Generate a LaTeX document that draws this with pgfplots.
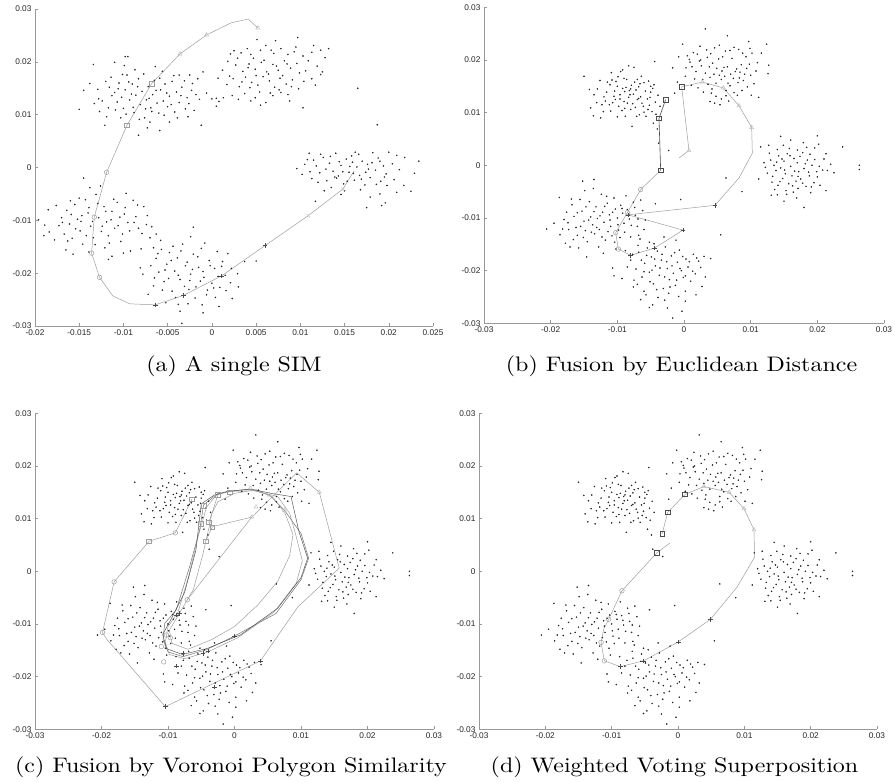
\documentclass[border=0pt]{standalone}
\usepackage{fontspec}
\usepackage{graphicx}
\usepackage{pgfplots}
\usepackage{pgfplotstable}
\pgfplotsset{compat=1.18}
\newfontfamily\arial{Liberation Sans}
\definecolor{lg}{gray}{0.62}
\definecolor{llg}{gray}{0.75}
\definecolor{dg}{gray}{0.3}
\definecolor{axg}{gray}{0.6}
\newcommand{\capt}[1]{\scalebox{2.4}[2.1]{\fontsize{10}{12}\selectfont #1}}

% scatter of panel (a)
\pgfplotstableread[row sep=\\]{
x y\\
-14.5e-3 14.6e-3\\ -15e-3 11e-3\\ -13.4e-3 19.5e-3\\ -11e-3 19.9e-3\\ -9.8e-3 21e-3\\ -9.5e-3 21e-3\\ -12.7e-3 10.6e-3\\ -12.1e-3 8e-3\\ -8.3e-3 6.1e-3\\ -5.9e-3 7e-3\\
-4.8e-3 8.6e-3\\ -2.7e-3 9.6e-3\\ -1.2e-3 8e-3\\ -1e-3 18.1e-3\\ 0e-3 13e-3\\ 1.3e-3 13.2e-3\\ -2.5e-3 17.5e-3\\ -1.4e-3 12.9e-3\\ -6.4e-3 19.1e-3\\ -3.7e-3 17.5e-3\\
-12e-3 16.3e-3\\ -11.6e-3 15.2e-3\\ -11.3e-3 13.6e-3\\ -11e-3 14.2e-3\\ -10.7e-3 12.4e-3\\ -10.5e-3 16e-3\\ -10.2e-3 13.3e-3\\ -10e-3 11.2e-3\\ -9.8e-3 14.7e-3\\ -9.6e-3 17.5e-3\\
-9.3e-3 12.8e-3\\ -9e-3 15.8e-3\\ -8.8e-3 10.4e-3\\ -8.6e-3 13.7e-3\\ -8.3e-3 16.8e-3\\ -8.1e-3 11.9e-3\\ -7.9e-3 14.4e-3\\ -7.6e-3 9.4e-3\\ -7.4e-3 12.8e-3\\ -7.2e-3 15.3e-3\\
-6.9e-3 11.3e-3\\ -6.7e-3 13.8e-3\\ -6.5e-3 16.5e-3\\ -6.2e-3 12.2e-3\\ -6e-3 10.3e-3\\ -5.8e-3 14.7e-3\\ -5.5e-3 12.6e-3\\ -5.3e-3 15.8e-3\\ -5e-3 11.5e-3\\ -4.8e-3 13.5e-3\\
-4.5e-3 16.3e-3\\ -4.2e-3 10.5e-3\\ -4e-3 14.3e-3\\ -3.7e-3 12.3e-3\\ -3.4e-3 15.2e-3\\ -3e-3 11.1e-3\\ -2.8e-3 13.2e-3\\ -2.3e-3 14.6e-3\\ -2e-3 10.8e-3\\ -1.6e-3 16.8e-3\\
-10.3e-3 9.4e-3\\ -11.7e-3 11.3e-3\\ -12.8e-3 13e-3\\ -7e-3 8.6e-3\\ -5.6e-3 18.2e-3\\ -8.7e-3 18.5e-3\\
-13.8e-3 15.9e-3\\ -12.9e-3 14.8e-3\\ -12.4e-3 12.6e-3\\ -11.9e-3 9.6e-3\\ -11.4e-3 17.1e-3\\ -10.9e-3 10.9e-3\\ -10.6e-3 14.9e-3\\ -10.1e-3 17.6e-3\\ -9.7e-3 10.1e-3\\ -9.4e-3 16.2e-3\\
-9.1e-3 13.9e-3\\ -8.9e-3 11.4e-3\\ -8.4e-3 15.3e-3\\ -8.2e-3 9.1e-3\\ -7.7e-3 17.7e-3\\ -7.5e-3 11.1e-3\\ -7.1e-3 13.1e-3\\ -6.8e-3 10.6e-3\\ -6.3e-3 14.6e-3\\ -5.9e-3 16.9e-3\\
-5.4e-3 9.9e-3\\ -5.1e-3 14.1e-3\\ -4.6e-3 11.9e-3\\ -4.3e-3 17.4e-3\\ -3.9e-3 9.4e-3\\ -3.5e-3 13.6e-3\\ -3.1e-3 16.4e-3\\ -2.6e-3 12.1e-3\\ -2.2e-3 15.9e-3\\ -1.8e-3 13.8e-3\\
-0.6e-3 14.1e-3\\ 0.5e-3 11.6e-3\\ -13.3e-3 12.1e-3\\ -9.9e-3 19.3e-3\\ -7.3e-3 7.5e-3\\
16.5e-3 15e-3\\ 10.3e-3 11.3e-3\\ 0.7e-3 16.9e-3\\
2.5e-3 22.1e-3\\ 3.3e-3 21.7e-3\\ 4e-3 22.5e-3\\ 4.7e-3 20.7e-3\\ 5.5e-3 22.2e-3\\ 6.1e-3 23.1e-3\\ 7e-3 21.6e-3\\ 7.8e-3 22.5e-3\\ 8.6e-3 21.4e-3\\ 9.5e-3 22.8e-3\\
10.3e-3 21.1e-3\\ 11.3e-3 21.8e-3\\ 12.3e-3 22.2e-3\\ 1.8e-3 20.1e-3\\ 2.7e-3 19.4e-3\\ 3.5e-3 18.2e-3\\ 4.2e-3 19.6e-3\\ 4.9e-3 18.6e-3\\ 5.6e-3 19.9e-3\\ 6.2e-3 18.1e-3\\
6.9e-3 19.5e-3\\ 7.5e-3 18.4e-3\\ 8.2e-3 20.2e-3\\ 8.9e-3 18.8e-3\\ 9.6e-3 19.7e-3\\ 10.6e-3 18.3e-3\\ 11.9e-3 19.2e-3\\ 12.5e-3 18.1e-3\\ 1.7e-3 15.7e-3\\ 2.4e-3 16.8e-3\\
3.1e-3 15.3e-3\\ 3.8e-3 17.1e-3\\ 4.5e-3 16.1e-3\\ 5.2e-3 15.6e-3\\ 5.8e-3 17.2e-3\\ 6.5e-3 16.4e-3\\ 7.1e-3 15.2e-3\\ 7.7e-3 16.9e-3\\ 8.4e-3 15.8e-3\\ 9.1e-3 16.6e-3\\
9.8e-3 14.9e-3\\ 11.3e-3 16.8e-3\\ 12.3e-3 17.6e-3\\ 2.3e-3 13.6e-3\\ 3.7e-3 14e-3\\ 4.9e-3 13.2e-3\\ 6.1e-3 12.3e-3\\ 6.9e-3 13.6e-3\\ 7.8e-3 14.2e-3\\ 8.6e-3 13.8e-3\\
5.5e-3 11.8e-3\\ 4.4e-3 12.6e-3\\ 13.2e-3 22.5e-3\\ 7.2e-3 24e-3\\ 9.7e-3 24.6e-3\\ 11.5e-3 23.1e-3\\ 0.8e-3 12.5e-3\\ 0.5e-3 13.1e-3\\
1.2e-3 18.4e-3\\ 2e-3 17.3e-3\\ 2.9e-3 20.7e-3\\ 3.4e-3 16.2e-3\\ 4.1e-3 18.9e-3\\ 4.4e-3 21.4e-3\\ 5e-3 17.4e-3\\ 5.4e-3 14.3e-3\\ 5.9e-3 20.3e-3\\ 6.4e-3 17.7e-3\\
6.7e-3 22.2e-3\\ 7.3e-3 19.2e-3\\ 7.6e-3 14.7e-3\\ 8e-3 17.4e-3\\ 8.5e-3 19.6e-3\\ 9e-3 15.3e-3\\ 9.3e-3 21.9e-3\\ 9.9e-3 17.9e-3\\ 10.4e-3 16.3e-3\\ 10.9e-3 20.2e-3\\
11.7e-3 15.6e-3\\ 12.8e-3 20.8e-3\\ 3e-3 12.9e-3\\ 6.6e-3 14.1e-3\\ 8.8e-3 12.6e-3\\ 2.1e-3 21.5e-3\\ 5.1e-3 24.2e-3\\ 4.3e-3 15.1e-3\\
18.7e-3 8.1e-3\\ 20.9e-3 2.3e-3\\ 23.4e-3 1.2e-3\\ 22.9e-3 -1.1e-3\\ 22.5e-3 -4.5e-3\\ 20.9e-3 -4.7e-3\\ 19e-3 -5e-3\\ 11.7e-3 -6.4e-3\\ 17.5e-3 -7.6e-3\\ 19.2e-3 -7.2e-3\\ 19.6e-3 -6.7e-3\\
9.6e-3 -0.2e-3\\ 10.2e-3 -1.3e-3\\ 10.8e-3 1.5e-3\\ 11.3e-3 -2.1e-3\\ 11.8e-3 0.3e-3\\ 12.2e-3 -1e-3\\ 12.6e-3 1.9e-3\\ 13e-3 -2.5e-3\\ 13.3e-3 0.8e-3\\ 13.7e-3 -0.7e-3\\
14e-3 2.7e-3\\ 14.3e-3 -1.6e-3\\ 14.6e-3 0.4e-3\\ 14.9e-3 -3.1e-3\\ 15.2e-3 1.6e-3\\ 15.5e-3 -0.9e-3\\ 15.8e-3 2.2e-3\\ 16.1e-3 -2.4e-3\\ 16.4e-3 0.1e-3\\ 16.7e-3 -1.5e-3\\
17e-3 1.2e-3\\ 17.3e-3 -3.3e-3\\ 17.6e-3 0.6e-3\\ 17.9e-3 -1.9e-3\\ 18.2e-3 2.8e-3\\ 18.5e-3 -0.5e-3\\ 18.8e-3 1.8e-3\\ 19.1e-3 -2.6e-3\\ 19.4e-3 0.3e-3\\ 19.7e-3 -1.2e-3\\
20e-3 2.9e-3\\ 13.5e-3 -3.8e-3\\ 15e-3 -4.4e-3\\ 16.8e-3 -4.2e-3\\ 12.3e-3 2.5e-3\\ 16.2e-3 2.9e-3\\ 14.1e-3 -2e-3\\ 15.9e-3 1e-3\\ 17.7e-3 -0.3e-3\\ 19.8e-3 -3.4e-3\\ 11e-3 2.7e-3\\
10.5e-3 0.6e-3\\ 11.1e-3 -0.8e-3\\ 11.5e-3 1.4e-3\\ 12e-3 -2.8e-3\\ 12.9e-3 -0.3e-3\\ 13.4e-3 2.1e-3\\ 13.9e-3 -1.8e-3\\ 14.4e-3 1.1e-3\\ 14.8e-3 -0.8e-3\\ 15.3e-3 -2.6e-3\\
15.6e-3 0.2e-3\\ 16e-3 -1.1e-3\\ 16.6e-3 2.5e-3\\ 16.9e-3 -2.2e-3\\ 17.4e-3 -0.9e-3\\ 18.1e-3 0.9e-3\\ 18.6e-3 -3.2e-3\\ 19e-3 1.2e-3\\ 19.5e-3 -1.8e-3\\ 20.4e-3 0.7e-3\\
21.2e-3 -0.4e-3\\ 21.8e-3 1.9e-3\\ 20.6e-3 -2.3e-3\\ 14.6e-3 -5.1e-3\\ 17.9e-3 -5.6e-3\\ 12.7e-3 -4.4e-3\\ 21.7e-3 -3.4e-3\\
-19.6e-3 -9.9e-3\\ -18.5e-3 -8e-3\\ -14.5e-3 -2e-3\\ -15.7e-3 -16.4e-3\\ -11.7e-3 -17.4e-3\\ -8.1e-3 -19e-3\\ -6.3e-3 -12.6e-3\\ -19e-3 -12.9e-3\\ -18.4e-3 -12.2e-3\\ -16.5e-3 -15.6e-3\\
-17.3e-3 -11e-3\\ -17e-3 -9.5e-3\\ -16.7e-3 -12.6e-3\\ -16.4e-3 -8.1e-3\\ -16.1e-3 -10.7e-3\\ -15.8e-3 -13.4e-3\\ -15.5e-3 -7e-3\\ -15.2e-3 -9.8e-3\\ -14.9e-3 -12e-3\\ -14.6e-3 -14.5e-3\\
-14.3e-3 -6.1e-3\\ -14e-3 -8.6e-3\\ -13.7e-3 -11.1e-3\\ -13.4e-3 -13.3e-3\\ -13.1e-3 -5.1e-3\\ -12.8e-3 -9.5e-3\\ -12.5e-3 -12.1e-3\\ -12.2e-3 -7.4e-3\\ -11.9e-3 -10.3e-3\\ -11.6e-3 -14.3e-3\\
-11.3e-3 -8.3e-3\\ -11e-3 -11.5e-3\\ -10.7e-3 -6.6e-3\\ -10.4e-3 -9.4e-3\\ -10.1e-3 -12.6e-3\\ -9.8e-3 -7.6e-3\\ -9.5e-3 -10.4e-3\\ -9.2e-3 -15.8e-3\\ -8.9e-3 -6.2e-3\\ -8.6e-3 -9.3e-3\\
-8.3e-3 -11.5e-3\\ -8e-3 -15.4e-3\\ -7.7e-3 -7.4e-3\\ -7.4e-3 -10.8e-3\\ -7e-3 -13.3e-3\\ -12.6e-3 -3.5e-3\\ -10e-3 -16.2e-3\\ -13.9e-3 -16e-3\\ -9.7e-3 -4.9e-3\\ -12.1e-3 -15.2e-3\\ -16e-3 -6.3e-3\\ -14.8e-3 -10.2e-3\\
-18.9e-3 -10.9e-3\\ -17.8e-3 -13.7e-3\\ -17.6e-3 -7.2e-3\\ -16.9e-3 -10.4e-3\\ -16.3e-3 -13.9e-3\\ -15.9e-3 -8.9e-3\\ -15.4e-3 -11.6e-3\\ -15e-3 -5.8e-3\\ -14.7e-3 -9.1e-3\\ -14.2e-3 -12.9e-3\\
-13.9e-3 -7.6e-3\\ -13.5e-3 -10.2e-3\\ -13.2e-3 -14.6e-3\\ -12.9e-3 -6.8e-3\\ -12.4e-3 -11.1e-3\\ -12e-3 -8.3e-3\\ -11.7e-3 -12.9e-3\\ -11.4e-3 -9.9e-3\\ -11.1e-3 -6e-3\\ -10.6e-3 -11e-3\\
-10.3e-3 -14e-3\\ -9.9e-3 -8.8e-3\\ -9.3e-3 -12e-3\\ -8.8e-3 -10.4e-3\\ -8.4e-3 -7.1e-3\\ -7.9e-3 -12.5e-3\\ -7.3e-3 -9.1e-3\\ -6.8e-3 -11.2e-3\\ -6.6e-3 -15.2e-3\\ -11.3e-3 -16.8e-3\\ -13.8e-3 -3.8e-3\\
-1e-3 -27.5e-3\\ -2.1e-3 -11.3e-3\\ 2.9e-3 -20.1e-3\\ 5e-3 -17.7e-3\\ 3.7e-3 -17.8e-3\\ 2.3e-3 -24.8e-3\\ -7.2e-3 -24e-3\\ -3.4e-3 -29.5e-3\\
-6.3e-3 -17.2e-3\\ -6e-3 -19.8e-3\\ -5.7e-3 -15.5e-3\\ -5.4e-3 -21.6e-3\\ -5.1e-3 -18.3e-3\\ -4.8e-3 -16.1e-3\\ -4.5e-3 -23.4e-3\\ -4.2e-3 -19.6e-3\\ -3.9e-3 -17.1e-3\\ -3.6e-3 -21.2e-3\\
-3.3e-3 -14.5e-3\\ -3e-3 -18.6e-3\\ -2.7e-3 -25.8e-3\\ -2.4e-3 -20.2e-3\\ -2.1e-3 -16.4e-3\\ -1.8e-3 -22.6e-3\\ -1.5e-3 -18.9e-3\\ -1.2e-3 -15.3e-3\\ -0.9e-3 -20.8e-3\\ -0.6e-3 -24.1e-3\\
-0.3e-3 -17.6e-3\\ 0e-3 -21.9e-3\\ 0.3e-3 -19.1e-3\\ 0.6e-3 -15.9e-3\\ 0.9e-3 -22.7e-3\\ 1.2e-3 -17.8e-3\\ 1.5e-3 -20.4e-3\\ 1.8e-3 -16.3e-3\\ -5.2e-3 -25.6e-3\\ -3.8e-3 -25.9e-3\\
-1.1e-3 -26e-3\\ -6.6e-3 -22.4e-3\\ -4.4e-3 -14.9e-3\\ -2.6e-3 -23.1e-3\\ 0.4e-3 -24.6e-3\\ -0.8e-3 -14.3e-3\\ 2.1e-3 -21.8e-3\\ -5.8e-3 -13.8e-3\\
-6.9e-3 -18.6e-3\\ -6.5e-3 -20.9e-3\\ -6.1e-3 -16.3e-3\\ -5.6e-3 -23.2e-3\\ -5.3e-3 -19.4e-3\\ -4.9e-3 -21e-3\\ -4.6e-3 -17.6e-3\\ -4.1e-3 -24.6e-3\\ -3.8e-3 -20.4e-3\\ -3.5e-3 -15.8e-3\\
-3.1e-3 -22.5e-3\\ -2.8e-3 -17.9e-3\\ -2.5e-3 -21.4e-3\\ -2.2e-3 -19.3e-3\\ -1.9e-3 -24.7e-3\\ -1.6e-3 -16.9e-3\\ -1.3e-3 -21.5e-3\\ -1e-3 -19.7e-3\\ -0.5e-3 -23.2e-3\\ -0.2e-3 -18.6e-3\\
0.2e-3 -22.8e-3\\ 0.7e-3 -20.6e-3\\ 1.1e-3 -18.7e-3\\ 1.6e-3 -23.3e-3\\ 2.2e-3 -19.1e-3\\ -7.8e-3 -20.2e-3\\ -3.6e-3 -27.2e-3\\ 0.8e-3 -26.3e-3\\ 3e-3 -22.6e-3\\ -2.4e-3 -13.1e-3\\
}\ptsA

% scatter shared by panels (b), (c), (d)
\pgfplotstableread[row sep=\\]{
x y\\
-15e-3 16.9e-3\\ -13.5e-3 13.4e-3\\ -14e-3 10.9e-3\\ -12.5e-3 9e-3\\ -11.5e-3 15.8e-3\\ -10.8e-3 16.2e-3\\ -10.2e-3 15.9e-3\\ -10e-3 15e-3\\ -9.5e-3 17.8e-3\\ -9.2e-3 18.1e-3\\
-9e-3 16.5e-3\\ -8.7e-3 14.8e-3\\ -8.2e-3 14.2e-3\\ -8e-3 14.5e-3\\ -7.2e-3 14.3e-3\\ -7.5e-3 18.6e-3\\ -7e-3 16.3e-3\\ -6.6e-3 15.5e-3\\ -6e-3 15.7e-3\\ -5.3e-3 16e-3\\
-5e-3 15e-3\\ -4.5e-3 15.3e-3\\ -4.4e-3 19.7e-3\\ -12e-3 13e-3\\ -11.8e-3 12.2e-3\\ -11.2e-3 11.5e-3\\ -11e-3 10.3e-3\\ -10.5e-3 13.1e-3\\ -10.3e-3 12.5e-3\\ -10e-3 9.2e-3\\
-9.8e-3 11.2e-3\\ -9.6e-3 13.4e-3\\ -9.3e-3 10.4e-3\\ -9e-3 12.1e-3\\ -8.8e-3 9.3e-3\\ -8.5e-3 11.8e-3\\ -8.3e-3 12.9e-3\\ -8e-3 10.6e-3\\ -7.8e-3 7.4e-3\\ -7.6e-3 13.5e-3\\
-7.3e-3 11e-3\\ -7e-3 12.5e-3\\ -6.7e-3 9.6e-3\\ -6.5e-3 13e-3\\ -6.3e-3 11.8e-3\\ -6e-3 10.1e-3\\ -5.7e-3 9.3e-3\\ -5.5e-3 12.6e-3\\ -5.2e-3 11.4e-3\\ -5e-3 13.9e-3\\
-4.8e-3 10.2e-3\\ -4.6e-3 8e-3\\ -4.3e-3 12e-3\\ -4e-3 6.9e-3\\ -3.8e-3 4.2e-3\\ -13e-3 14.5e-3\\ -12.3e-3 11.5e-3\\ -8.9e-3 14e-3\\ -7.9e-3 15.2e-3\\ -6.8e-3 14.9e-3\\
-14.2e-3 14.4e-3\\ -13.1e-3 11.9e-3\\ -12.6e-3 16.1e-3\\ -12.1e-3 10.2e-3\\ -11.6e-3 13.9e-3\\ -11.1e-3 15.3e-3\\ -10.7e-3 11.9e-3\\ -10.4e-3 14.1e-3\\ -9.9e-3 16.8e-3\\ -9.6e-3 12.6e-3\\
-9.2e-3 14.6e-3\\ -8.9e-3 10.8e-3\\ -8.6e-3 16.3e-3\\ -8.1e-3 13.4e-3\\ -7.7e-3 11.7e-3\\ -7.4e-3 15.8e-3\\ -7.1e-3 9.3e-3\\ -6.8e-3 12.7e-3\\ -6.4e-3 16.9e-3\\ -6.1e-3 11.2e-3\\
-5.8e-3 14.1e-3\\ -5.4e-3 10.6e-3\\ -5.1e-3 12.9e-3\\ -4.7e-3 14.6e-3\\ -4.2e-3 9.7e-3\\ -3.9e-3 13.3e-3\\ -3.6e-3 11.2e-3\\ -10.9e-3 17.6e-3\\ -8.3e-3 18.9e-3\\ -13.6e-3 9.4e-3\\
3.2e-3 25.9e-3\\ 6.5e-3 24.6e-3\\ 9.7e-3 23.5e-3\\ 12.4e-3 23e-3\\ -0.2e-3 23e-3\\ 12.7e-3 19e-3\\ 12.6e-3 17.4e-3\\ 11.2e-3 12.9e-3\\ -1.7e-3 18.5e-3\\ -1e-3 15.8e-3\\ -1.4e-3 13.7e-3\\
0.5e-3 20.8e-3\\ 0.8e-3 20.1e-3\\ 1.4e-3 21.4e-3\\ 2e-3 21.1e-3\\ 2.5e-3 20e-3\\ 3.5e-3 20.5e-3\\ 4e-3 21.2e-3\\ 4.6e-3 22.3e-3\\ 5.3e-3 22.8e-3\\ 5.8e-3 20.6e-3\\
6.2e-3 21.7e-3\\ 6.9e-3 21.8e-3\\ 7.5e-3 22.4e-3\\ 8.2e-3 22e-3\\ 8.8e-3 21.3e-3\\ 9.3e-3 20.6e-3\\ 10.2e-3 21.3e-3\\ 11e-3 19.5e-3\\ 0.3e-3 18.5e-3\\ 1.2e-3 18.7e-3\\
1.8e-3 17.8e-3\\ 2.6e-3 18.9e-3\\ 3.2e-3 17.5e-3\\ 3.8e-3 18.7e-3\\ 4.5e-3 17.3e-3\\ 4.9e-3 18.4e-3\\ 5.3e-3 17.1e-3\\ 5.7e-3 17.9e-3\\ 6.1e-3 16.9e-3\\ 6.5e-3 18.7e-3\\
7e-3 17.3e-3\\ 7.4e-3 16.5e-3\\ 7.9e-3 18.3e-3\\ 8.4e-3 17.7e-3\\ 8.9e-3 16.1e-3\\ 9.4e-3 18.4e-3\\ 10e-3 17.1e-3\\ 1.1e-3 15.2e-3\\ 2.1e-3 14.7e-3\\ 2.9e-3 13.9e-3\\
3.6e-3 15.4e-3\\ 4.2e-3 14.5e-3\\ 4.8e-3 13.1e-3\\ 5.6e-3 12.6e-3\\ 6.3e-3 14.2e-3\\ 6.9e-3 15.1e-3\\ 7.5e-3 13.8e-3\\ 8.1e-3 15.7e-3\\ 8.7e-3 14.2e-3\\ 9.5e-3 14.9e-3\\
10.1e-3 13.3e-3\\ 4.6e-3 11.8e-3\\ 5.4e-3 11.5e-3\\ 3.9e-3 12.1e-3\\ 6.7e-3 12.2e-3\\
0.9e-3 19.6e-3\\ 1.6e-3 16.4e-3\\ 2.3e-3 19.8e-3\\ 2.8e-3 16.3e-3\\ 3.4e-3 21.9e-3\\ 3.9e-3 16.7e-3\\ 4.3e-3 19.4e-3\\ 4.8e-3 15.6e-3\\ 5.2e-3 20.2e-3\\ 5.6e-3 16.3e-3\\
6e-3 18.6e-3\\ 6.6e-3 15.6e-3\\ 7.2e-3 20.3e-3\\ 7.7e-3 17.8e-3\\ 8.3e-3 16.6e-3\\ 8.6e-3 19.1e-3\\ 9.1e-3 17.3e-3\\ 9.8e-3 19.2e-3\\ 10.5e-3 15.5e-3\\ 10.8e-3 17.9e-3\\
11.6e-3 21.3e-3\\ 0.2e-3 16.9e-3\\ 2.4e-3 22.6e-3\\ 6.3e-3 13.2e-3\\ 8e-3 13.3e-3\\ 4.1e-3 13.7e-3\\ 9.9e-3 22.2e-3\\ -0.8e-3 20.6e-3\\
11.5e-3 3.5e-3\\ 12.7e-3 3.8e-3\\ 14.5e-3 5.5e-3\\ 16e-3 4.8e-3\\ 17.9e-3 4.3e-3\\ 20e-3 5.6e-3\\ 20.2e-3 4e-3\\ 21e-3 1.2e-3\\ 22e-3 0.2e-3\\ 22.5e-3 -1.4e-3\\
21.3e-3 -4.8e-3\\ 18e-3 -8e-3\\ 15e-3 -6.8e-3\\ 14e-3 -5.6e-3\\ 11.2e-3 -2.6e-3\\ 13e-3 1e-3\\ 13.5e-3 0e-3\\ 13.8e-3 -1e-3\\ 14.2e-3 1.8e-3\\ 14.5e-3 -0.5e-3\\
14.8e-3 -2.5e-3\\ 15e-3 0.8e-3\\ 15.2e-3 -1.6e-3\\ 15.5e-3 2.2e-3\\ 15.7e-3 -3.5e-3\\ 16e-3 -0.2e-3\\ 16.2e-3 -2e-3\\ 16.5e-3 1.3e-3\\ 16.8e-3 -3e-3\\ 17e-3 0.5e-3\\
17.2e-3 -1.2e-3\\ 17.5e-3 -2.6e-3\\ 17.8e-3 2.4e-3\\ 18e-3 -0.6e-3\\ 18.3e-3 -4e-3\\ 18.5e-3 1e-3\\ 18.8e-3 -2e-3\\ 19.2e-3 0e-3\\ 19.5e-3 -3.3e-3\\ 19.9e-3 -1.2e-3\\
20.3e-3 -0.2e-3\\ 13.2e-3 -3.2e-3\\ 13.6e-3 -4.6e-3\\ 14.1e-3 -3.8e-3\\ 15.3e-3 -4.8e-3\\ 16.4e-3 -5.1e-3\\ 17.1e-3 -4.4e-3\\ 19e-3 -5.2e-3\\ 20.4e-3 -3.8e-3\\ 21.5e-3 -1e-3\\
12.5e-3 -1.5e-3\\ 12e-3 0.5e-3\\ 14e-3 3e-3\\ 15.8e-3 3.2e-3\\ 17e-3 2.9e-3\\ 18.9e-3 2.1e-3\\ 19.6e-3 3.3e-3\\ 26.3e-3 0e-3\\ 26.3e-3 -0.8e-3\\ 23.8e-3 3.5e-3\\
12.2e-3 -0.4e-3\\ 12.8e-3 2.3e-3\\ 13.3e-3 -2.1e-3\\ 13.9e-3 0.6e-3\\ 14.4e-3 -3.1e-3\\ 14.7e-3 1.2e-3\\ 15.1e-3 -0.9e-3\\ 15.4e-3 -5.5e-3\\ 15.9e-3 1.8e-3\\ 16.3e-3 -3.9e-3\\
16.6e-3 -1.1e-3\\ 17.1e-3 -2.1e-3\\ 17.4e-3 1.7e-3\\ 17.8e-3 -3.4e-3\\ 18.2e-3 0.3e-3\\ 18.7e-3 -1.3e-3\\ 19.1e-3 -4.1e-3\\ 19.6e-3 1.1e-3\\ 20e-3 -2.2e-3\\ 20.8e-3 -0.9e-3\\
21.3e-3 2.2e-3\\ 14.9e-3 3.8e-3\\ 16.9e-3 -6.2e-3\\ 13.1e-3 -5.7e-3\\ 18.4e-3 3.4e-3\\
-20.6e-3 -12.1e-3\\ -18.7e-3 -6.1e-3\\ -18.6e-3 -13.2e-3\\ -18e-3 -10.3e-3\\ -17.1e-3 -15.5e-3\\ -15.2e-3 -3e-3\\ -13.5e-3 -2.7e-3\\ -14.6e-3 -17.4e-3\\ -16.8e-3 -7.5e-3\\ -16.5e-3 -9.7e-3\\
-16.2e-3 -11.8e-3\\ -16e-3 -13.3e-3\\ -15.6e-3 -6.5e-3\\ -15.3e-3 -8.7e-3\\ -15e-3 -10.6e-3\\ -14.8e-3 -12.4e-3\\ -14.5e-3 -14.5e-3\\ -14.2e-3 -6.9e-3\\ -14e-3 -9.8e-3\\ -13.7e-3 -11.3e-3\\
-13.4e-3 -13e-3\\ -13.2e-3 -7.9e-3\\ -13e-3 -10.1e-3\\ -12.7e-3 -12.2e-3\\ -12.4e-3 -5.5e-3\\ -12.2e-3 -8.9e-3\\ -12e-3 -10.8e-3\\ -11.8e-3 -14.2e-3\\ -11.5e-3 -7.2e-3\\ -11.2e-3 -9.4e-3\\
-11e-3 -11.6e-3\\ -10.8e-3 -13.4e-3\\ -10.5e-3 -6.2e-3\\ -10.3e-3 -8.3e-3\\ -10e-3 -10e-3\\ -9.8e-3 -12.3e-3\\ -9.5e-3 -7.6e-3\\ -9.2e-3 -9.1e-3\\ -9e-3 -11e-3\\ -8.7e-3 -5.8e-3\\
-8.5e-3 -8.4e-3\\ -8.2e-3 -10.2e-3\\ -8e-3 -13.6e-3\\ -7.6e-3 -7e-3\\ -7.3e-3 -9.5e-3\\ -7e-3 -11.6e-3\\ -6.5e-3 -6.6e-3\\ -6.2e-3 -8.6e-3\\ -5.8e-3 -10.4e-3\\ -15.8e-3 -15.7e-3\\
-12.8e-3 -15.5e-3\\ -10.2e-3 -15.9e-3\\ -13.6e-3 -4.4e-3\\ -11.6e-3 -5.9e-3\\ -17.6e-3 -8.9e-3\\ -17.3e-3 -12.2e-3\\ -9.6e-3 -13.7e-3\\ -6.8e-3 -13.3e-3\\ -4.3e-3 -7.3e-3\\ -5.2e-3 -14.6e-3\\
-19.5e-3 -11e-3\\ -18.2e-3 -12.1e-3\\ -17.4e-3 -10.9e-3\\ -16.9e-3 -6.4e-3\\ -16.6e-3 -14.1e-3\\ -16e-3 -9e-3\\ -15.5e-3 -11.6e-3\\ -15.1e-3 -13.7e-3\\ -14.7e-3 -7.9e-3\\ -14.3e-3 -10.4e-3\\
-13.9e-3 -12.7e-3\\ -13.5e-3 -8.8e-3\\ -13.1e-3 -11.8e-3\\ -12.6e-3 -9.6e-3\\ -12.3e-3 -13.6e-3\\ -11.9e-3 -7.8e-3\\ -11.4e-3 -12.6e-3\\ -11.1e-3 -10.4e-3\\ -10.7e-3 -8.9e-3\\ -10.4e-3 -14.6e-3\\
-9.9e-3 -11.3e-3\\ -9.3e-3 -8.2e-3\\ -8.9e-3 -12.7e-3\\ -8.3e-3 -9.3e-3\\ -7.9e-3 -11.4e-3\\ -7.4e-3 -8e-3\\ -6.9e-3 -10.2e-3\\ -6e-3 -12.2e-3\\ -12.1e-3 -16.7e-3\\ -17.8e-3 -14.8e-3\\ -14.9e-3 -4.8e-3\\
-1.7e-3 -29e-3\\ -4.7e-3 -26.5e-3\\ -2.5e-3 -27.1e-3\\ -6e-3 -23.9e-3\\ -7.6e-3 -23.1e-3\\ 0.2e-3 -23.9e-3\\ 1.8e-3 -24.6e-3\\ 0.2e-3 -25.8e-3\\ 3e-3 -17.3e-3\\ 2.2e-3 -18.2e-3\\
5.5e-3 -13.2e-3\\ -10.7e-3 -19.5e-3\\ -10.5e-3 -21e-3\\ -6.6e-3 -14e-3\\ -8e-3 -18e-3\\ -7.2e-3 -19.7e-3\\ -6.8e-3 -16.5e-3\\ -6.3e-3 -21.2e-3\\ -5.9e-3 -18.6e-3\\ -5.5e-3 -15.7e-3\\
-5.2e-3 -20.3e-3\\ -4.9e-3 -17.4e-3\\ -4.6e-3 -22.5e-3\\ -4.3e-3 -19.1e-3\\ -4e-3 -16.3e-3\\ -3.7e-3 -20.9e-3\\ -3.4e-3 -18e-3\\ -3.1e-3 -23.4e-3\\ -2.8e-3 -15.5e-3\\ -2.5e-3 -19.6e-3\\
-2.2e-3 -21.7e-3\\ -1.9e-3 -17.2e-3\\ -1.6e-3 -20.5e-3\\ -1.3e-3 -22.8e-3\\ -1e-3 -18.4e-3\\ -0.7e-3 -16.1e-3\\ -0.4e-3 -20e-3\\ -0.1e-3 -21.3e-3\\ 0.3e-3 -17.8e-3\\ 0.6e-3 -19.3e-3\\
1e-3 -22e-3\\ 1.4e-3 -16.9e-3\\ 1.7e-3 -20.6e-3\\ 2.5e-3 -19.4e-3\\ -5.7e-3 -24.6e-3\\ -3.9e-3 -25.1e-3\\ -2.3e-3 -24.3e-3\\ -0.8e-3 -24.9e-3\\ -7.5e-3 -21.8e-3\\ -8.8e-3 -16.2e-3\\
-6.5e-3 -25.5e-3\\ 3.2e-3 -21.2e-3\\ 4e-3 -17.7e-3\\ -4.5e-3 -14.9e-3\\ -3e-3 -13.6e-3\\ -1.2e-3 -14.2e-3\\ -0.5e-3 -6.5e-3\\ 8.7e-3 -5e-3\\ 6.3e-3 -2.4e-3\\ -2.3e-3 2.8e-3\\
-8.5e-3 -19.3e-3\\ -7.7e-3 -16.9e-3\\ -7e-3 -22.6e-3\\ -6.4e-3 -18e-3\\ -6e-3 -20.2e-3\\ -5.6e-3 -17.1e-3\\ -5.1e-3 -22.1e-3\\ -4.8e-3 -19.9e-3\\ -4.4e-3 -17.8e-3\\ -4.1e-3 -23.6e-3\\
-3.6e-3 -19.5e-3\\ -3.3e-3 -16.9e-3\\ -2.9e-3 -21.2e-3\\ -2.6e-3 -18.3e-3\\ -2.1e-3 -23.1e-3\\ -1.8e-3 -19.1e-3\\ -1.4e-3 -16.6e-3\\ -1.1e-3 -21.8e-3\\ -0.6e-3 -19.6e-3\\ -0.2e-3 -17.3e-3\\
0.2e-3 -21e-3\\ 0.8e-3 -18.3e-3\\ 1.3e-3 -20.1e-3\\ 1.9e-3 -17.6e-3\\ -5.2e-3 -27e-3\\ -2.9e-3 -25.6e-3\\ -0.3e-3 -27.7e-3\\ -9.3e-3 -21.5e-3\\ 2.7e-3 -23e-3\\ -6.9e-3 -15.2e-3\\
}\ptsB

\pgfplotsset{
  panel/.style={
    scale only axis,
    axis lines=left,
    axis line style={-, draw=axg, line width=0.6pt},
    tick style={draw=axg, line width=0.5pt},
    major tick length=3pt,
    tick align=inside,
    scaled ticks=false,
    clip=false,
    ticklabel style={font=\arial\fontsize{8.3}{9}\selectfont, text=black!85},
    ymin=-0.03, ymax=0.03,
    ytick={-0.03,-0.02,-0.01,0,0.01,0.02,0.03},
    yticklabels={-0.03,-0.02,-0.01,0,0.01,0.02,0.03},
  },
  wide/.style={
    xmin=-0.03, xmax=0.03,
    xtick={-0.03,-0.02,-0.01,0,0.01,0.02,0.03},
    xticklabels={-0.03,-0.02,-0.01,0,0.01,0.02,0.03},
  },
  dots/.style={only marks, mark=*, mark size=0.55pt, black!85},
  pth/.style={lg, line width=0.5pt},
  mk/.style={only marks, lg, line width=0.5pt, mark size=2.3pt},
}

\begin{document}
\begin{tikzpicture}
\path[use as bounding box] (0pt,0pt) rectangle (895pt,-782pt);

% ---------------- (a)
\begin{axis}[panel, at={(35pt,-326pt)}, anchor=south west, width=398pt, height=317pt,
  xmin=-0.02, xmax=0.025,
  xtick={-0.02,-0.015,-0.01,-0.005,0,0.005,0.01,0.015,0.02,0.025},
  xticklabels={-0.02,-0.015,-0.01,-0.005,0,0.005,0.01,0.015,0.02,0.025}]
\addplot[dots] table[x=x,y=y]{\ptsA};
\addplot[pth] coordinates {(5.2e-3,26.4e-3) (4.1e-3,28.1e-3) (2.2e-3,27.4e-3) (-0.6e-3,25.1e-3) (-3.6e-3,21.5e-3) (-6.8e-3,15.9e-3) (-9.6e-3,8e-3) (-11.9e-3,-0.9e-3) (-13.3e-3,-9.4e-3) (-13.6e-3,-16.2e-3) (-12.7e-3,-20.8e-3) (-11.2e-3,-24.3e-3) (-9.3e-3,-25.8e-3) (-6.4e-3,-26e-3) (-3.2e-3,-24.2e-3) (1.1e-3,-20.5e-3) (6e-3,-14.8e-3) (10.9e-3,-9.1e-3) (14.8e-3,-4.1e-3) (16.1e-3,-0.6e-3)};
\addplot[mk, llg, mark=triangle] coordinates {(5.2e-3,26.4e-3) (-0.6e-3,25.1e-3) (-3.6e-3,21.5e-3)};
\addplot[mk, mark=square] coordinates {(-6.8e-3,15.9e-3) (-9.6e-3,8e-3)};
\addplot[mk, mark=o] coordinates {(-11.9e-3,-0.9e-3) (-13.3e-3,-9.4e-3) (-13.6e-3,-16.2e-3) (-12.7e-3,-20.8e-3)};
\addplot[mk, dg, mark=+] coordinates {(-6.4e-3,-26e-3) (-3.2e-3,-24.2e-3) (1.1e-3,-20.5e-3) (6e-3,-14.8e-3)};
\addplot[mk, llg, mark=x] coordinates {(10.9e-3,-9.1e-3) (14.8e-3,-4.1e-3)};
\end{axis}

% ---------------- (b)
\begin{axis}[panel, wide, at={(484pt,-323.3pt)}, anchor=south west, width=400pt, height=316pt]
\addplot[dots] table[x=x,y=y]{\ptsB};
\addplot[pth] coordinates {(-3.5e-3,-0.95e-3) (-6.5e-3,-4.6e-3) (-8.5e-3,-9e-3) (-10.25e-3,-12.8e-3) (-9.85e-3,-15.9e-3) (-8e-3,-17.1e-3) (-4.4e-3,-15.7e-3) (-0.15e-3,-12.3e-3) (-8.4e-3,-9.4e-3) (4.65e-3,-7.6e-3) (8.25e-3,-2.4e-3) (10.25e-3,2.3e-3) (10.15e-3,7.2e-3) (8.25e-3,11.3e-3) (5.9e-3,14.7e-3) (2.75e-3,15.8e-3) (-0.35e-3,14.9e-3) (0.75e-3,2.8e-3) (-0.75e-3,1.4e-3)};
\addplot[dg, line width=0.6pt] coordinates {(-2.75e-3,12.5e-3) (-3.75e-3,8.9e-3) (-3.5e-3,-0.95e-3)};
\addplot[mk, dg, mark=square] coordinates {(-2.75e-3,12.5e-3) (-3.75e-3,8.9e-3) (-3.5e-3,-0.95e-3) (-0.35e-3,14.9e-3)};
\addplot[mk, mark=o] coordinates {(-6.5e-3,-4.6e-3) (-8.5e-3,-9e-3) (-10.25e-3,-12.8e-3) (-9.85e-3,-15.9e-3)};
\addplot[mk, dg, mark=+] coordinates {(-8e-3,-17.1e-3) (-4.4e-3,-15.7e-3) (-0.15e-3,-12.3e-3) (4.65e-3,-7.6e-3) (-8.4e-3,-9.4e-3)};
\addplot[mk, llg, mark=triangle] coordinates {(10.15e-3,7.2e-3) (8.25e-3,11.3e-3) (5.9e-3,14.7e-3) (2.75e-3,15.8e-3) (0.75e-3,2.8e-3)};
\end{axis}

% ---------------- (c)
\begin{axis}[panel, wide, at={(35pt,-729.3pt)}, anchor=south west, width=399pt, height=316pt]
\addplot[dots] table[x=x,y=y]{\ptsB};
\addplot[pth] coordinates {(-6.4e-3,13.7e-3) (-8.9e-3,7.3e-3) (-12.85e-3,5.7e-3) (-18.1e-3,-2e-3) (-18.85e-3,-6.1e-3) (-19.85e-3,-11.6e-3) (-19.15e-3,-13e-3) (-17.35e-3,-15.6e-3) (-10.4e-3,-25.7e-3) (3.9e-3,-17e-3) (9.5e-3,-6.8e-3) (15.75e-3,0.6e-3) (12.75e-3,15e-3) (9.35e-3,18.7e-3) (2.6e-3,10.3e-3) (-3.25e-3,8.5e-3)};
\addplot[pth] coordinates {(-7.1e-3,-5.4e-3) (2.6e-3,10.3e-3)};
\addplot[black!55, line width=0.5pt] coordinates {(-4.65e-3,12.6e-3) (-2.75e-3,14.5e-3) (-0.75e-3,15.2e-3) (2.25e-3,15.6e-3) (5.25e-3,14.5e-3) (7.5e-3,11.6e-3) (10e-3,7.2e-3) (11.15e-3,2.5e-3) (10e-3,-1.6e-3) (6.25e-3,-8e-3) (0e-3,-12.3e-3) (-4.25e-3,-14.9e-3) (-7.75e-3,-16.2e-3) (-10e-3,-15.3e-3) (-10.75e-3,-13e-3) (-10.5e-3,-9.9e-3) (-8.75e-3,-7.3e-3) (-6.75e-3,0.9e-3) (-5.25e-3,7.8e-3) (-4.65e-3,12.6e-3)};
\addplot[pth] coordinates {(-4.2e-3,12.2e-3) (-2.5e-3,14.8e-3) (0e-3,15.2e-3) (3e-3,15.3e-3) (6.5e-3,14.2e-3) (8.3e-3,11e-3) (9.3e-3,6.5e-3) (10.2e-3,2e-3) (9.3e-3,-2.2e-3) (6e-3,-7.7e-3) (0.5e-3,-12.6e-3) (-4e-3,-15.3e-3) (-7.5e-3,-16.6e-3) (-9.8e-3,-15.8e-3) (-10.4e-3,-13.5e-3) (-10e-3,-10.5e-3) (-8.5e-3,-7.8e-3) (-6.9e-3,-1e-3) (-5.5e-3,6.5e-3) (-4.2e-3,12.2e-3)};
\addplot[pth] coordinates {(-3.4e-3,11e-3) (-2.5e-3,13.2e-3) (0e-3,14.8e-3) (3.3e-3,15.5e-3) (5.8e-3,14e-3) (7.6e-3,11e-3) (8.8e-3,7e-3) (8.3e-3,3e-3) (6.5e-3,-1.9e-3) (3.5e-3,-6.4e-3) (0e-3,-10.5e-3) (-3.5e-3,-13e-3) (-7e-3,-14.8e-3) (-9.4e-3,-13.7e-3) (-9.8e-3,-11.2e-3) (-8.3e-3,-8e-3) (-6.2e-3,-3.5e-3) (-4.8e-3,3e-3) (-3.8e-3,8.5e-3) (-3.4e-3,11e-3)};
\addplot[dg, line width=0.45pt] coordinates {(-5e-3,12.8e-3) (-3e-3,14.5e-3) (-1e-3,15.2e-3) (2.5e-3,15.6e-3) (5.5e-3,14.8e-3) (8.5e-3,14.2e-3) (9.7e-3,7.5e-3) (11e-3,2.5e-3) (10e-3,-1.2e-3) (6.5e-3,-7e-3) (1e-3,-12e-3) (-4e-3,-14.6e-3) (-7.8e-3,-15.8e-3) (-10.2e-3,-14.7e-3) (-10.8e-3,-12e-3) (-9.5e-3,-9e-3) (-7.5e-3,-4e-3) (-5.8e-3,4e-3) (-5e-3,12.8e-3)};
\addplot[pth] coordinates {(-4.35e-3,5.7e-3) (-3.35e-3,8.4e-3) (-3.85e-3,9.3e-3) (-2.5e-3,14.5e-3)};
\addplot[mk, mark=square] coordinates {(-12.85e-3,5.7e-3) (-6.4e-3,13.7e-3) (-4.65e-3,12.4e-3) (-5.1e-3,9e-3) (-3.85e-3,9.3e-3) (-3.35e-3,8.4e-3) (-4.35e-3,5.7e-3) (-2.5e-3,14.5e-3) (-0.75e-3,15e-3)};
\addplot[mk, mark=o] coordinates {(-8.9e-3,7.3e-3) (-18.1e-3,-2e-3) (-19.85e-3,-11.6e-3) (-7.1e-3,-5.4e-3) (-10.65e-3,-17.2e-3) (-11e-3,-14.3e-3) (-9.65e-3,-12.6e-3) (-10.25e-3,-12.1e-3)};
\addplot[mk, dg, mark=+] coordinates {(-8.75e-3,-18e-3) (-7.75e-3,-15.6e-3) (-4.75e-3,-15.6e-3) (-4e-3,-15.1e-3) (0e-3,-12.3e-3) (-3e-3,-22e-3) (-10.4e-3,-25.7e-3) (3.9e-3,-17e-3) (-8.75e-3,-8.3e-3) (-8.25e-3,-8e-3)};
\addplot[mk, llg, mark=triangle] coordinates {(2.35e-3,15.8e-3) (5.25e-3,14.5e-3) (2.6e-3,10.3e-3) (7.5e-3,11.6e-3) (12.75e-3,15e-3) (3.25e-3,12.2e-3)};
\end{axis}

% ---------------- (d)
\begin{axis}[panel, wide, at={(479pt,-729.3pt)}, anchor=south west, width=398pt, height=316pt]
\addplot[dots] table[x=x,y=y]{\ptsB};
\addplot[pth] coordinates {(-2.4e-3,7.1e-3) (-1.55e-3,11.2e-3) (1.05e-3,14.6e-3) (3.9e-3,16.1e-3) (7.7e-3,15e-3) (9.95e-3,11.9e-3) (11.45e-3,7.9e-3) (11.55e-3,2.7e-3) (8.9e-3,-3e-3) (4.9e-3,-9.1e-3) (0.05e-3,-13.4e-3) (-5.2e-3,-17e-3) (-8.7e-3,-18.1e-3) (-11.1e-3,-17e-3) (-11.6e-3,-13.5e-3) (-11.2e-3,-11e-3) (-10.45e-3,-9.1e-3) (-8.45e-3,-3.7e-3) (-3.2e-3,3.5e-3) (-1.2e-3,5.4e-3)};
\addplot[mk, dg, mark=square] coordinates {(-2.4e-3,7.1e-3) (-1.55e-3,11.2e-3) (1.05e-3,14.6e-3) (-3.2e-3,3.5e-3)};
\addplot[mk, mark=o] coordinates {(-8.45e-3,-3.7e-3) (-11.6e-3,-13.5e-3) (-11.1e-3,-17e-3) (-10.45e-3,-9.1e-3)};
\addplot[mk, dg, mark=+] coordinates {(-8.7e-3,-18.1e-3) (-5.2e-3,-17e-3) (0.05e-3,-13.4e-3) (4.9e-3,-9.1e-3)};
\addplot[mk, llg, mark=triangle] coordinates {(3.9e-3,16.1e-3) (7.7e-3,15e-3) (9.95e-3,11.9e-3) (11.45e-3,7.9e-3)};
\end{axis}

\node[anchor=base, inner sep=0pt] at (234pt,-371pt) {\capt{(a) A single SIM}};
\node[anchor=base, inner sep=0pt] at (681.5pt,-371pt) {\capt{(b) Fusion by Euclidean Distance}};
\node[anchor=base, inner sep=0pt] at (231pt,-772pt) {\capt{(c) Fusion by Voronoi Polygon Similarity}};
\node[anchor=base, inner sep=0pt] at (674.5pt,-772pt) {\capt{(d) Weighted Voting Superposition}};
\end{tikzpicture}
\end{document}
